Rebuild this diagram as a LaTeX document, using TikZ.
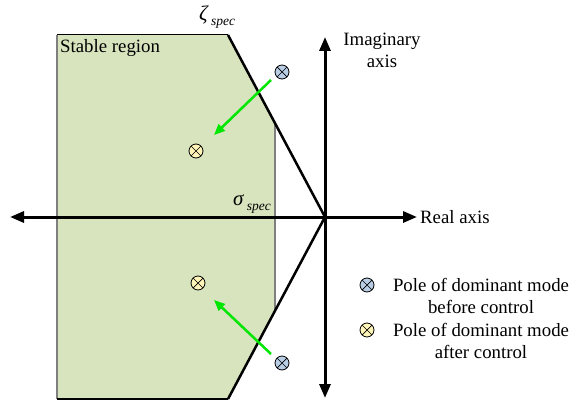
\documentclass[tikz,border=0pt]{standalone}
\usepackage{fontspec}
\setmainfont{Liberation Serif}
\usetikzlibrary{arrows.meta}
\definecolor{regionfill}{HTML}{D7E4BD}
\definecolor{regionedge}{HTML}{7F7F7F}
\definecolor{poleblue}{HTML}{B9CDE5}
\definecolor{poleyellow}{HTML}{FFF5B8}
\definecolor{movegreen}{HTML}{00E600}
\tikzset{
  axisline/.style={line width=3pt,{Triangle[length=14pt,width=11pt]}-{Triangle[length=14pt,width=11pt]}},
  boundline/.style={line width=2.5pt},
  pole/.style={circle,draw=black,line width=0.8pt,minimum size=14pt,inner sep=0pt,
    path picture={\draw[line width=0.7pt] (path picture bounding box.north west) -- (path picture bounding box.south east)
      (path picture bounding box.north east) -- (path picture bounding box.south west);}},
  before/.style={pole,fill=poleblue},
  after/.style={pole,fill=poleyellow},
  movearrow/.style={draw=movegreen,line width=2.5pt,-{Triangle[length=11pt,width=9pt]}},
  txt/.style={font=\rmfamily\fontsize{18.8}{22}\selectfont,inner sep=0pt},
}
\begin{document}
\begin{tikzpicture}[x=1pt,y=-1pt]
\useasboundingbox (0,0) rectangle (572,401);
% stable region
\fill[regionfill] (57,35) -- (228,35) -- (275,123) -- (275,311) -- (228,399) -- (57,399) -- cycle;
\draw[regionedge,line width=1.2pt] (275,123) -- (275,311);
\draw[regionedge,line width=2pt] (57,35) -- (57,399);
\draw[black,line width=1pt] (57,35) -- (228,35);
\draw[black,line width=1.5pt] (57,399) -- (228,399);
% axes
\coordinate (O) at (325,217);
\coordinate (L) at (10,217);
\coordinate (R) at (417,217);
\coordinate (T) at (325,37);
\coordinate (B) at (325,398);
\draw[axisline] (L) -- (R);
\draw[axisline] (B) -- (T);
% damping boundary
\coordinate (ZT) at (228,35);
\coordinate (ZB) at (228,399);
\draw[boundline] (ZT) -- (O) -- (ZB);
% labels
\node[txt,anchor=base west] (stable) at (60,53) {Stable region};
\node[txt,align=center] (imag) at (382,50) {Imaginary\\axis};
\node[txt,anchor=west] (real) at (420,217) {Real axis};
\node[inner sep=0pt] (zeta) at (217,17) {\rmfamily\fontsize{21}{21}\selectfont\itshape ζ\,\raisebox{-5pt}{\fontsize{13.5}{13.5}\selectfont spec}};
\node[inner sep=0pt] (sigma) at (252,204) {\rmfamily\fontsize{21}{21}\selectfont\itshape σ\,\raisebox{-5pt}{\fontsize{13.5}{13.5}\selectfont spec}};
% poles
\node[before] (b1) at (282,72) {};
\node[after] (a1) at (196,151) {};
\node[after] (a2) at (198,283) {};
\node[before] (b2) at (282,363) {};
\coordinate (e1) at (214,135);
\coordinate (e2) at (214,300);
\draw[movearrow] (b1) ++(-11,8) -- (e1);
\draw[movearrow] (b2) ++(-11,-9) -- (e2);
% legend
\node[before] (lb) at (367,285) {};
\node[after] (la) at (367,330) {};
\node[txt,align=center] (lbt) at (481,296) {Pole of dominant mode\\before control};
\node[txt,align=center] (lat) at (481,341) {Pole of dominant mode\\after control};
\end{tikzpicture}
\end{document}
